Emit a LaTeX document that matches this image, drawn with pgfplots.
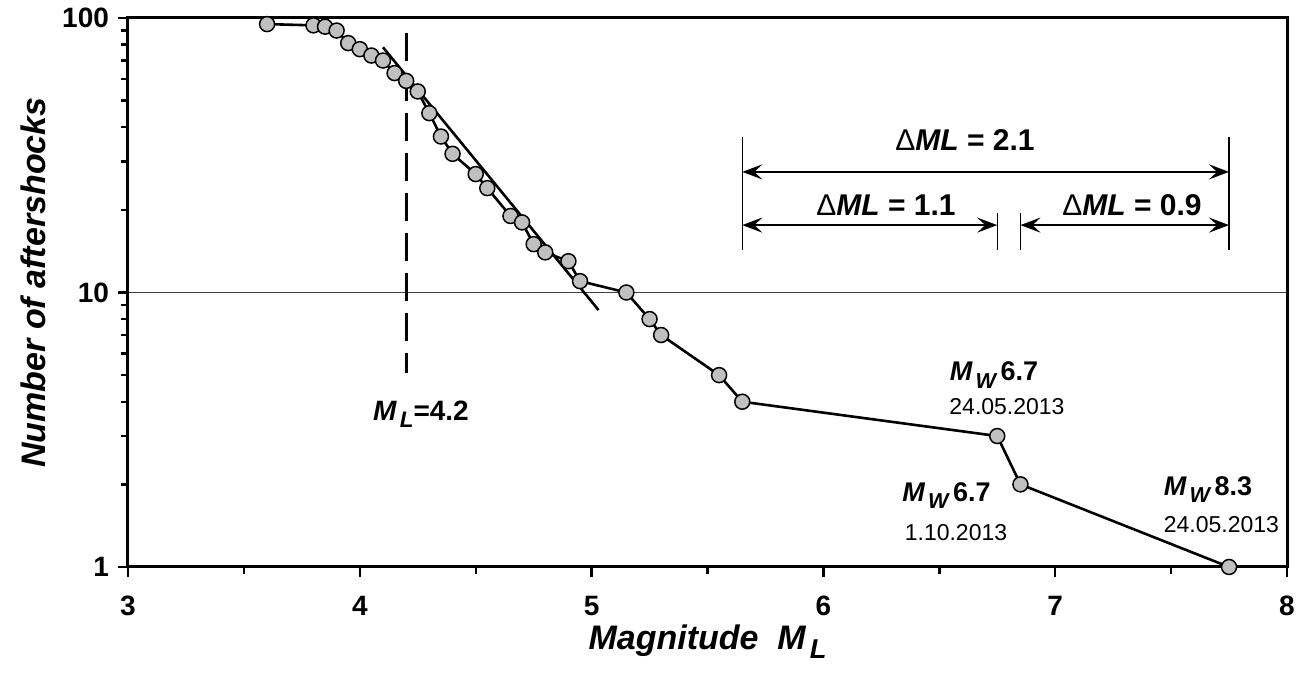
\documentclass[border=0pt]{standalone}
\usepackage{fontspec}
\setmainfont{Liberation Sans}
\usepackage{graphicx}
\usepackage{pgfplots}
\pgfplotsset{compat=1.18}
\usetikzlibrary{arrows.meta}
\definecolor{markgray}{HTML}{C0C0C0}
\newcommand{\sub}[1]{\kern0.12em\raisebox{-0.5ex}{\scalebox{0.8}{#1}}}

\begin{document}
\begin{tikzpicture}[dimarrow/.style={line width=1.3pt, {Stealth[length=10pt,width=7.5pt,inset=4pt]}-{Stealth[length=10pt,width=7.5pt,inset=4pt]}}]
\useasboundingbox (-64pt,-60.5pt) rectangle (588pt,283.5pt);
\begin{axis}[
  scale only axis, width=579.5pt, height=274.5pt,
  xmin=3, xmax=8, ymin=1, ymax=100, ymode=log,
  xtick={3,...,8}, minor x tick num=1,
  ytick={1,10,100}, yticklabels={1,10,100},
  xtick pos=bottom, ytick pos=left,
  tick align=outside, major tick length=5pt, minor tick length=3.5pt,
  axis line style={line width=1.5pt},
  every tick/.style={black, line width=1.2pt},
  ymajorgrids, major grid style={black!75, line width=0.5pt},
  /pgf/number format/assume math mode=true,
  ticklabel style={font=\fontsize{14}{16}\selectfont\bfseries},
  xticklabel style={yshift=-6pt},
  yticklabel style={xshift=-1pt},
  xlabel={\bfseries\itshape Magnitude\ \ M\sub{L}},
  ylabel={\bfseries\itshape Number of aftershocks},
  every axis x label/.style={at={(axis description cs:0.5,0)}, yshift=-37.5pt, anchor=center, font=\fontsize{17}{20}\selectfont},
  every axis y label/.style={at={(axis description cs:0,0.518)}, xshift=-47.5pt, anchor=center, rotate=90, font=\fontsize{17}{20}\selectfont},
  clip=false,
]
% cumulative number of aftershocks
\addplot[black, line width=1.3pt, mark=*, mark size=3.75pt,
  mark options={fill=markgray, draw=black, line width=0.75pt}] coordinates {
  (3.60,95) (3.80,94) (3.85,93) (3.90,90) (3.95,81) (4.00,77) (4.05,73)
  (4.10,70) (4.15,63) (4.20,59) (4.25,54) (4.30,45) (4.35,37) (4.40,32)
  (4.50,27) (4.55,24) (4.65,19) (4.70,18) (4.75,15) (4.80,14) (4.90,13)
  (4.95,11) (5.15,10) (5.25,8) (5.30,7) (5.55,5) (5.65,4) (6.75,3)
  (6.85,2) (7.75,1)
};
% fitted line
\addplot[black, line width=1.3pt] coordinates {(4.10,78.2) (5.03,8.63)};
% completeness magnitude
\addplot[black, line width=1.4pt, dash pattern=on 14pt off 6pt] coordinates {(4.2,88) (4.2,5.1)};

% magnitude differences
\draw[line width=0.6pt] (axis cs:5.65,36.9) -- (axis cs:5.65,14.3);
\draw[line width=0.6pt] (axis cs:7.75,36.9) -- (axis cs:7.75,14.3);
\draw[line width=0.6pt] (axis cs:6.75,19.5) -- (axis cs:6.75,14.3);
\draw[line width=0.6pt] (axis cs:6.85,19.5) -- (axis cs:6.85,14.3);
\draw[dimarrow] (axis cs:5.65,27.5) -- (axis cs:7.75,27.5);
\draw[dimarrow] (axis cs:5.65,17.6) -- (axis cs:6.75,17.6);
\draw[dimarrow] (axis cs:6.85,17.6) -- (axis cs:7.75,17.6);
\node[anchor=base, font=\fontsize{15}{18}\selectfont\bfseries] at (axis cs:6.611,32.8) {{\mdseries Δ}\textit{ML} = 2.1};
\node[anchor=base, font=\fontsize{15}{18}\selectfont\bfseries] at (axis cs:6.270,19.0) {{\mdseries Δ}\textit{ML} = 1.1};
\node[anchor=base, font=\fontsize{15}{18}\selectfont\bfseries] at (axis cs:7.331,19.0) {{\mdseries Δ}\textit{ML} = 0.9};

% labels
\node[anchor=base, font=\fontsize{14}{16}\selectfont\bfseries] at (axis cs:4.264,3.43) {\textit{M\sub{L}}=4.2};
\node[anchor=base, font=\fontsize{13.5}{16}\selectfont\bfseries] at (axis cs:6.736,4.76) {\textit{M\sub{W}}\,6.7};
\node[anchor=base, font=\fontsize{11.5}{14}\selectfont] at (axis cs:6.792,3.58) {24.05.2013};
\node[anchor=base, font=\fontsize{13.5}{16}\selectfont\bfseries] at (axis cs:6.531,1.729) {\textit{M\sub{W}}\,6.7};
\node[anchor=base, font=\fontsize{11.5}{14}\selectfont] at (axis cs:6.572,1.254) {1.10.2013};
\node[anchor=base, font=\fontsize{13.5}{16}\selectfont\bfseries] at (axis cs:7.659,1.829) {\textit{M\sub{W}}\,8.3};
\node[anchor=base, font=\fontsize{11.5}{14}\selectfont] at (axis cs:7.717,1.341) {24.05.2013};
\end{axis}
\end{tikzpicture}
\end{document}
